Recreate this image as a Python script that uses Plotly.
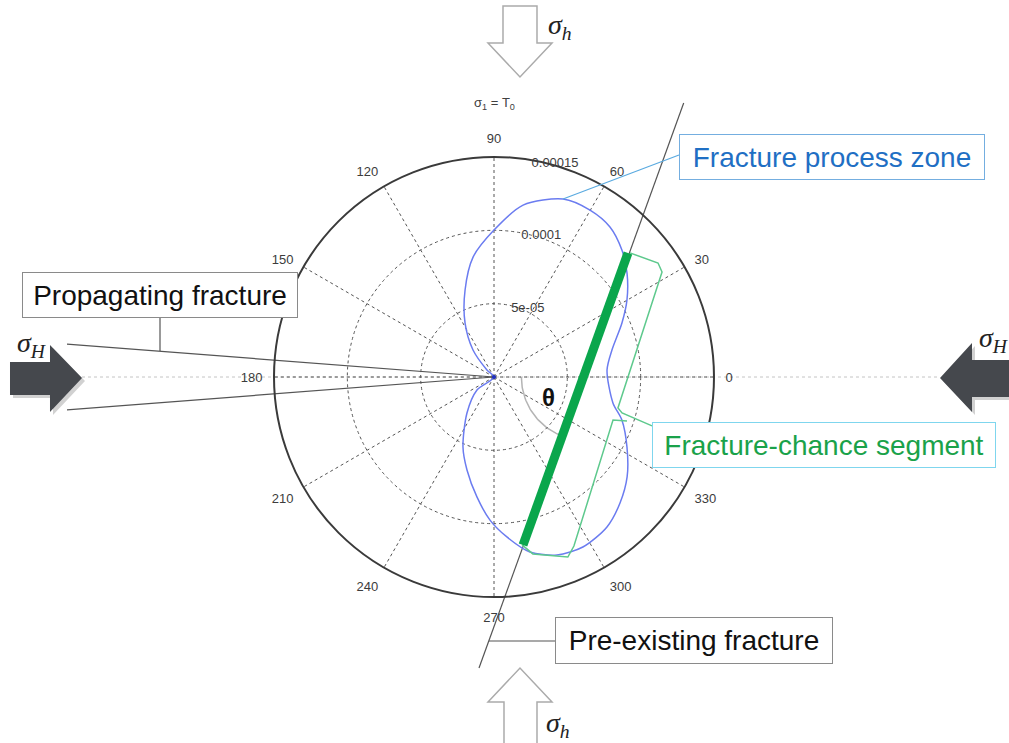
import numpy as np
import plotly.graph_objects as go

W, H = 1009, 743
# pole position and outer-ring radius of the polar frame, in pixels
CX, CY, R_PX = 494, 377, 220
R_MAX = 0.00015
S = R_PX / R_MAX  # pixels per stress unit

# ---- polar axis ticks ----
ang_ticks = [0, 30, 60, 90, 120, 150, 180, 210, 240, 270, 300, 330]
ang_labels = ["0", "30", "60", "90", "120", "150", "180", "210", "240", "270", "300", "330"]
rad_ticks = [5e-05, 1e-04, 1.5e-04]
rad_labels = ["5e-05", "0.0001", "0.00015"]

# ---- fracture process zone boundary (r in 1e-5) ----
fpz_theta = [138, 135, 127.9, 118.2, 108.4, 99.9, 90,
             80.4, 68.8, 60.1, 52.3, 44.8, 38.0, 30.1, 22.9, 12.9, 3.5,
             -12.3, -18.6, -27.8, -36.9, -45, -53, -62.4, -70.5, -78.4, -85.4,
             -91.6, -98.1, -106.2, -113.9, -126.9, -142.6, -150]
fpz_r = [0, 0.68, 2.33, 4.18, 6.25, 8.30, 10.02,
         11.89, 13.02, 13.13, 12.93, 12.29, 11.51, 10.48, 9.47, 8.25, 7.72,
         8.30, 9.20, 10.25, 11.35, 12.15, 12.80, 13.08, 12.87, 12.18, 10.94,
         9.76, 8.26, 6.60, 5.22, 3.07, 1.46, 0]

# ---- pre-existing fracture: segment inside the zone and full trace ----
seg_theta = [42.8, -80.2]
seg_r = [12.45, 11.63]
pre_theta = [55.3, -92.95]
pre_r = [22.72, 19.87]

# ---- fracture-chance segment outline (upper part ends in its callout) ----
fc_up_theta = [42.4, 34.8, 32.0, -14.0, -15.7, -17.2]
fc_up_r = [12.55, 13.62, 13.51, 8.71, 9.07, 11.28]
fc_lo_theta = [-18.3, -19.9, -64.7, -67.7, -77.6, -80.5]
fc_lo_r = [9.55, 8.63, 12.75, 13.27, 12.35, 11.61]

# ---- propagating fracture rays ----
prop_theta = [175.6, 184.4]
prop_r = 29.2

# theta arc radius (1e-5) and its sweep
arc_r = 4.3
arc_from, arc_to = 180, 250.2

E5 = 1e-5
RAD_ANGLE = 82


def xy(r, th):
    t = np.radians(th)
    return r * np.cos(t), r * np.sin(t)


def px(x, y):
    return x / W, 1 - y / H


def path_px(pts):
    p = [px(x, y) for x, y in pts]
    return "M " + " L ".join(f"{a:.5f},{b:.5f}" for a, b in p) + " Z"


fig = go.Figure()

# background helper lines on an invisible cartesian frame aligned with the pole
xr = [(0 - CX) / S, (W - CX) / S]
yr = [-(H - CY) / S, CY / S]

# horizontal axis extension between the σH arrows
fig.add_trace(go.Scatter(x=[(82 - CX) / S, (940 - CX) / S], y=[0, 0], mode="lines",
                         line=dict(color="#c4c4c4", width=1, dash="dot"),
                         hoverinfo="skip", showlegend=False))

# propagating fracture
for th in prop_theta:
    x1, y1 = xy(prop_r * E5, th)
    fig.add_trace(go.Scatter(x=[0, x1], y=[0, y1], mode="lines",
                             line=dict(color="#555555", width=1.2),
                             hoverinfo="skip", showlegend=False))

# pre-existing fracture trace
pxs, pys = xy(np.array(pre_r) * E5, np.array(pre_theta))
fig.add_trace(go.Scatter(x=pxs, y=pys, mode="lines",
                         line=dict(color="#555555", width=1.2),
                         hoverinfo="skip", showlegend=False))

# theta arc centred where the fracture crosses the horizontal axis
x0c = pxs[0] - pys[0] * (pxs[1] - pxs[0]) / (pys[1] - pys[0])
aa = np.radians(np.linspace(arc_from, arc_to, 40))
fig.add_trace(go.Scatter(x=x0c + arc_r * E5 * np.cos(aa), y=arc_r * E5 * np.sin(aa),
                         mode="lines", line=dict(color="#b4b4b4", width=1.5),
                         hoverinfo="skip", showlegend=False))

# polar traces
fig.add_trace(go.Scatterpolar(r=np.array(fpz_r) * E5, theta=fpz_theta, mode="lines",
                              line=dict(color="#6b7cf0", width=1.5, shape="spline", smoothing=0.8),
                              hoverinfo="skip", showlegend=False))
fig.add_trace(go.Scatterpolar(r=np.array(fc_up_r) * E5, theta=fc_up_theta, mode="lines",
                              line=dict(color="#5ec98d", width=1.5),
                              hoverinfo="skip", showlegend=False))
fig.add_trace(go.Scatterpolar(r=np.array(fc_lo_r) * E5, theta=fc_lo_theta, mode="lines",
                              line=dict(color="#5ec98d", width=1.5),
                              hoverinfo="skip", showlegend=False))
fig.add_trace(go.Scatterpolar(r=np.array(seg_r) * E5, theta=seg_theta, mode="lines",
                              line=dict(color="#0aa64c", width=9),
                              hoverinfo="skip", showlegend=False))
fig.add_trace(go.Scatterpolar(r=[0], theta=[0], mode="markers",
                              marker=dict(color="#2030c0", size=4),
                              hoverinfo="skip", showlegend=False))

tick_font = dict(family="Liberation Sans, Arial", size=13, color="#3c3c3c")
grid_c = "#555555"

fig.update_layout(
    width=W, height=H, margin=dict(l=0, r=0, t=0, b=0),
    paper_bgcolor="white", plot_bgcolor="rgba(0,0,0,0)",
    xaxis=dict(domain=[0, 1], range=xr, visible=False, fixedrange=True),
    yaxis=dict(domain=[0, 1], range=yr, visible=False, fixedrange=True),
    polar=dict(
        domain=dict(x=[(CX - R_PX) / W, (CX + R_PX) / W],
                    y=[(H - CY - R_PX) / H, (H - CY + R_PX) / H]),
        bgcolor="rgba(0,0,0,0)",
        angularaxis=dict(rotation=0, direction="counterclockwise",
                         tickmode="array", tickvals=ang_ticks, ticktext=ang_labels,
                         ticks="outside", ticklen=8, tickcolor="rgba(0,0,0,0)",
                         tickfont=tick_font,
                         showline=True, linecolor="#3a3a3a", linewidth=2,
                         showgrid=True, gridcolor=grid_c, gridwidth=1, griddash="dot"),
        radialaxis=dict(range=[0, R_MAX], angle=RAD_ANGLE, tickangle=RAD_ANGLE,
                        tickmode="array", tickvals=rad_ticks, ticktext=rad_labels,
                        ticks="", tickfont=tick_font, showline=False,
                        showgrid=True, gridcolor=grid_c, gridwidth=1, griddash="dot"),
    ),
    showlegend=False,
)

shapes = []
# σH arrows with a soft drop shadow
dark_left = [(10, 362), (50, 362), (50, 345), (82, 378), (50, 412), (50, 395), (10, 395)]
dark_right = [(1012, 360), (972, 360), (972, 343), (940, 378), (972, 412), (972, 397), (1012, 397)]
for pts in (dark_left, dark_right):
    shadow = [(x + 3, y + 3) for x, y in pts]
    shapes.append(dict(type="path", xref="paper", yref="paper", path=path_px(shadow),
                       fillcolor="rgba(0,0,0,0.18)", line=dict(width=0), layer="below"))
    shapes.append(dict(type="path", xref="paper", yref="paper", path=path_px(pts),
                       fillcolor="#45484d", line=dict(width=0), layer="above"))
# σh hollow arrows
hollow_top = [(503, 6), (537, 6), (537, 43), (552, 43), (520, 77), (488, 43), (503, 43)]
hollow_bot = [(504, 746), (537, 746), (537, 702), (552, 702), (520, 668), (488, 702), (504, 702)]
for pts in (hollow_top, hollow_bot):
    shapes.append(dict(type="path", xref="paper", yref="paper", path=path_px(pts),
                       fillcolor="white", line=dict(color="#ababab", width=1.5), layer="above"))


# callout leader lines
def seg(p, q, color, width=1.2):
    (x0, y0), (x1, y1) = px(*p), px(*q)
    return dict(type="line", xref="paper", yref="paper", x0=x0, y0=y0, x1=x1, y1=y1,
                line=dict(color=color, width=width), layer="above")


shapes.append(seg((160, 318), (160, 351), "#555555"))
shapes.append(seg((489, 641), (555, 641), "#555555"))
shapes.append(seg((563, 199), (679, 155), "#5aaae0"))
fig.update_layout(shapes=shapes)

ann = []


def box(text, cx, cy, w, h, color, border):
    x, y = px(cx, cy)
    ann.append(dict(text=text, x=x, y=y, xref="paper", yref="paper",
                    xanchor="center", yanchor="middle", showarrow=False,
                    width=w - 2, height=h - 2, borderpad=0, borderwidth=1,
                    bordercolor=border, bgcolor="white",
                    font=dict(family="Liberation Sans, Arial", size=28, color=color)))


box("Fracture process zone", 832, 157, 306, 46, "#1f6fc4", "#74aee0")
box("Propagating fracture", 160, 295, 276, 46, "#111111", "#8a8a8a")
box("Pre-existing fracture", 694, 640.5, 278, 47, "#111111", "#8a8a8a")
box("Fracture-chance segment", 824, 445, 344, 46, "#1aa24a", "#7fd6ee")


def label(text, cx, cy, size, color="#222222", family="Liberation Sans, Arial", xanchor="center"):
    x, y = px(cx, cy)
    ann.append(dict(text=text, x=x, y=y, xref="paper", yref="paper",
                    xanchor=xanchor, yanchor="middle", showarrow=False,
                    font=dict(family=family, size=size, color=color)))


serif = "Liberation Serif, Times New Roman"
label("<i>σ<sub>H</sub></i>", 32, 344, 28, family=serif)
label("<i>σ<sub>H</sub></i>", 977, 339, 28, family=serif, xanchor="left")
label("<i>σ<sub>h</sub></i>", 560, 26, 28, family=serif)
label("<i>σ<sub>h</sub></i>", 558, 724, 28, family=serif)
label("σ<sub>1</sub> = T<sub>0</sub>", 494, 103, 13, color="#404040")
label("<b>θ</b>", 548, 397, 24, color="#111111")

fig.update_layout(annotations=ann)

fig.write_html("out.html")
